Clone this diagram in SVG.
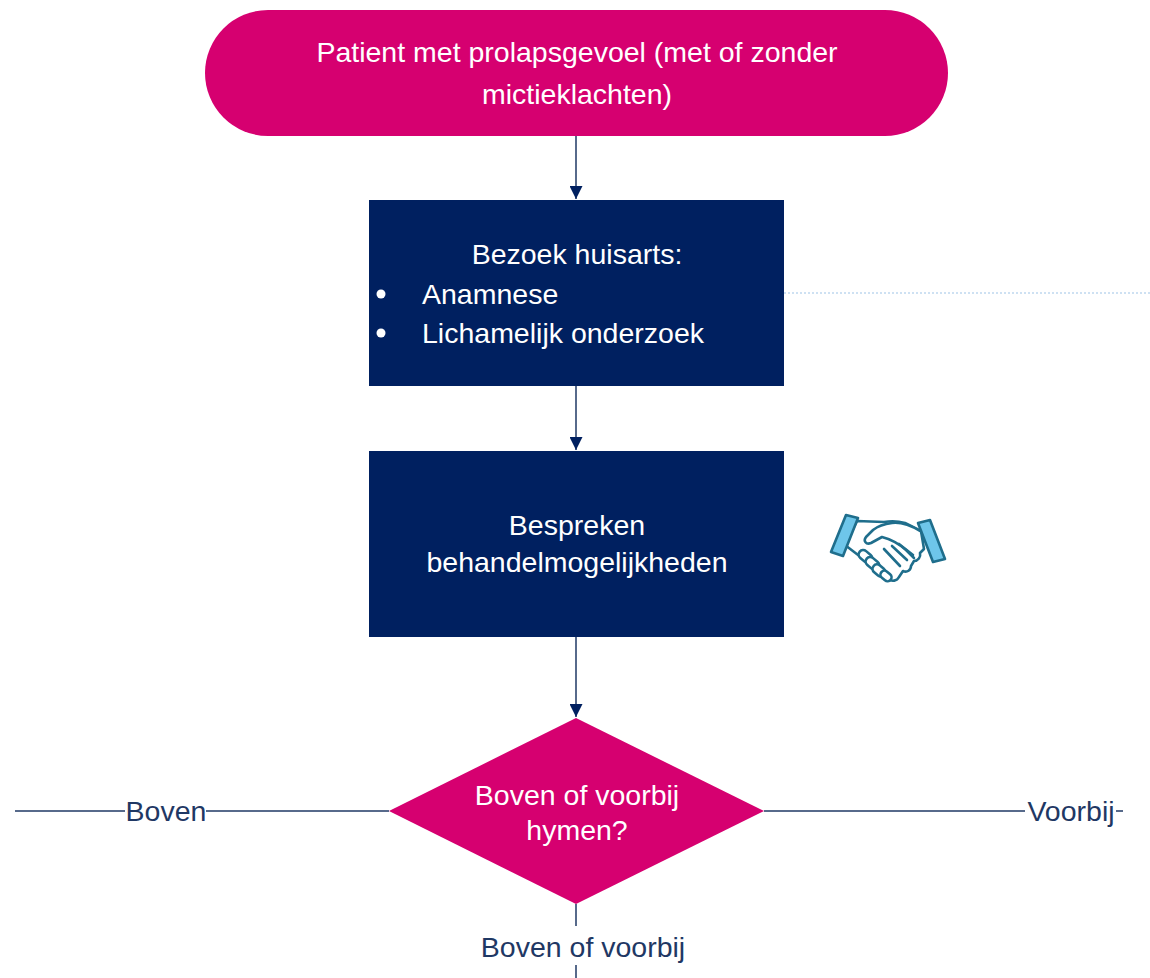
<svg xmlns="http://www.w3.org/2000/svg" width="1150" height="978" viewBox="0 0 1150 978">
<defs>
<style>
.pink{fill:#D60070;}
.navy{fill:#002060;}
.wt{font-family:"Liberation Sans",Arial,sans-serif;font-size:28.5px;fill:#FFFFFF;}
.lbl{font-family:"Liberation Sans",Arial,sans-serif;font-size:28.5px;fill:#1F3864;}
.ln{stroke:#1F3864;stroke-width:1.5;fill:none;}
.ic{stroke:#1F6E8C;stroke-width:2.6;fill:#FFFFFF;stroke-linejoin:round;stroke-linecap:round;}
.cuff{stroke:#1F6E8C;stroke-width:2.6;fill:#6EC6EA;stroke-linejoin:round;}
</style>
<marker id="arr" viewBox="0 0 10 10" refX="10" refY="5" markerWidth="14" markerHeight="13" markerUnits="userSpaceOnUse" orient="auto">
<path d="M0,0 L10,5 L0,10 Z" fill="#002060"/>
</marker>
</defs>
<rect width="1150" height="978" fill="#FFFFFF"/>

<g id="connectors">
<line class="ln" x1="576" y1="136" x2="576" y2="199" marker-end="url(#arr)"/>
<line class="ln" x1="576" y1="386" x2="576" y2="450" marker-end="url(#arr)"/>
<line class="ln" x1="576" y1="637" x2="576" y2="717" marker-end="url(#arr)"/>
<line x1="784" y1="293" x2="1150" y2="293" stroke="#9DC3E6" stroke-width="1" stroke-dasharray="2,2"/>
<line class="ln" x1="15" y1="811" x2="125" y2="811"/>
<line class="ln" x1="206" y1="811" x2="389" y2="811"/>
<line class="ln" x1="764" y1="811" x2="1025" y2="811"/>
<line class="ln" x1="1116" y1="811" x2="1123" y2="811"/>
<line class="ln" x1="576" y1="904" x2="576" y2="926"/>
<line class="ln" x1="576" y1="965" x2="576" y2="978"/>
<text class="lbl" x="166" y="821" text-anchor="middle">Boven</text>
<text class="lbl" x="1071" y="821" text-anchor="middle">Voorbij</text>
<text class="lbl" x="583" y="957" text-anchor="middle">Boven of voorbij</text>
</g>

<g id="start">
<rect class="pink" x="205" y="10" width="743" height="126" rx="63" ry="63"/>
<text class="wt" x="577" y="62" text-anchor="middle">Patient met prolapsgevoel (met of zonder</text>
<text class="wt" x="577" y="104" text-anchor="middle">mictieklachten)</text>
</g>

<g id="huisarts">
<rect class="navy" x="369" y="200" width="415" height="186"/>
<text class="wt" x="577" y="264" text-anchor="middle">Bezoek huisarts:</text>
<circle cx="381" cy="294" r="4.5" fill="#FFFFFF"/>
<text class="wt" x="422" y="304">Anamnese</text>
<circle cx="381" cy="333" r="4.5" fill="#FFFFFF"/>
<text class="wt" x="422" y="343">Lichamelijk onderzoek</text>
</g>

<g id="bespreken">
<rect class="navy" x="369" y="451" width="415" height="186"/>
<text class="wt" x="577" y="535" text-anchor="middle">Bespreken</text>
<text class="wt" x="577" y="572" text-anchor="middle">behandelmogelijkheden</text>
</g>

<g id="handshake">
<path class="ic" d="M845,545 L862,558 L888,579 C892,582 897,581 899,577 L903,571 C907,573 911,570 911,566 L914,561 C918,561 921,557 920,553 L924,549 L921,531 L905,523 C898,521 890,521 884,522 L857,521 Z"/>
<path class="ic" d="M920,531 C910,525 900,522 892,523 C884,524 878,526 873,530 L866,537 C863,541 866,545 871,543 L882,537 C890,539 898,543 906,550 L914,558"/>
<path class="ic" d="M884,549 L900,566 M892,546 L907,560 M899,544 L913,555" fill="none"/>
<rect class="ic" x="858" y="552" width="15" height="9" rx="4.5" transform="rotate(40 865.5 556.5)"/>
<rect class="ic" x="865" y="559" width="15" height="9" rx="4.5" transform="rotate(40 872.5 563.5)"/>
<rect class="ic" x="872" y="566" width="14" height="9" rx="4.5" transform="rotate(40 879 570.5)"/>
<rect class="ic" x="880" y="572" width="12" height="8" rx="4" transform="rotate(40 886 576)"/>
<polygon class="cuff" points="846,515 858,518 843,556 831,552"/>
<polygon class="cuff" points="918,523 930,520 945,559 933,562"/>
</g>

<g id="decision">
<polygon class="pink" points="576,718 764,811 576,904 389,811"/>
<text class="wt" x="577" y="805" text-anchor="middle">Boven of voorbij</text>
<text class="wt" x="577" y="840" text-anchor="middle">hymen?</text>
</g>
</svg>
